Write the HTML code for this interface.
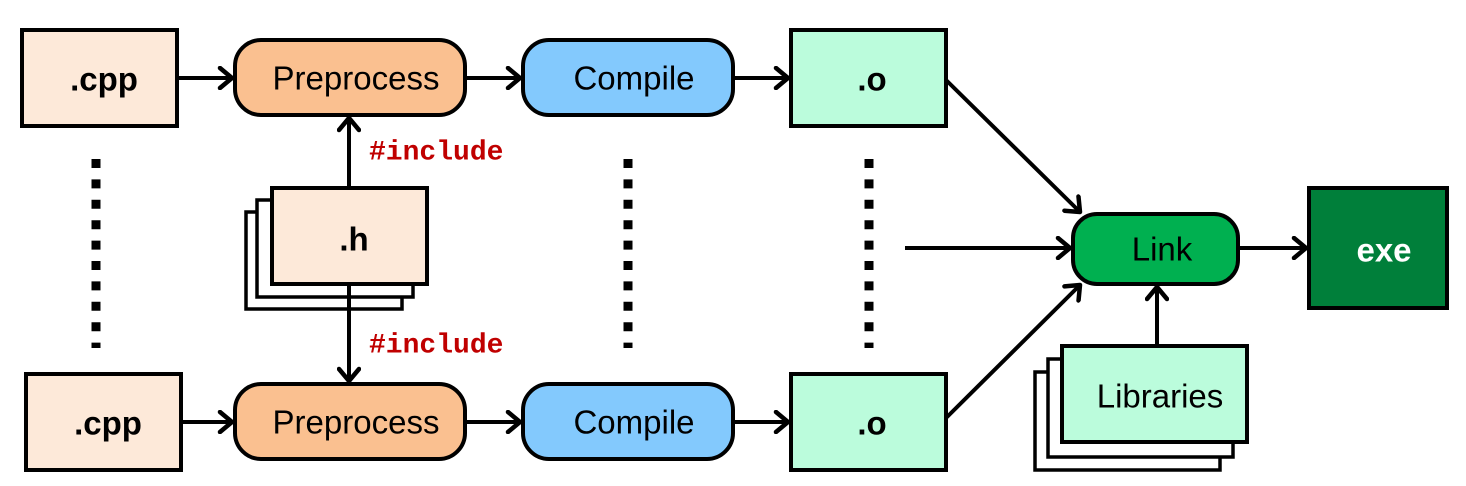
<!DOCTYPE html>
<html><head><meta charset="utf-8"><style>
html,body{margin:0;padding:0;background:#fff;}
svg{display:block;}
text{font-family:"Liberation Sans",sans-serif;}
</style></head><body>
<svg width="1466" height="486" viewBox="0 0 1466 486" xmlns="http://www.w3.org/2000/svg">
<defs>
<marker id="a" markerWidth="18" markerHeight="24" refX="15" refY="12" orient="auto" markerUnits="userSpaceOnUse">
<path d="M3,2 L15,12 L3,22" fill="none" stroke="#000" stroke-width="4.5" stroke-linecap="round" stroke-linejoin="round"/>
</marker>
</defs>
<g stroke="#000" stroke-width="4">
<rect x="22" y="30" width="155" height="96" fill="#fde9d9"/>
<rect x="26" y="374" width="155" height="96" fill="#fde9d9"/>
<rect x="235" y="40" width="230" height="75" rx="26" fill="#fac090"/>
<rect x="235" y="384" width="230" height="75" rx="26" fill="#fac090"/>
<rect x="523" y="40" width="210" height="75" rx="26" fill="#83c9fd"/>
<rect x="523" y="384" width="210" height="75" rx="26" fill="#83c9fd"/>
<rect x="791" y="30" width="155" height="96" fill="#bbfcdc"/>
<rect x="791" y="374" width="155" height="96" fill="#bbfcdc"/>
<rect x="246" y="212" width="156" height="97" fill="#fff" stroke-width="3.5"/>
<rect x="257" y="200" width="156" height="97" fill="#fff" stroke-width="3.5"/>
<rect x="272" y="188" width="155" height="96" fill="#fde9d9"/>
<rect x="1035" y="372" width="185" height="98" fill="#fff" stroke-width="3.5"/>
<rect x="1048" y="359" width="185" height="98" fill="#fff" stroke-width="3.5"/>
<rect x="1062" y="346" width="185" height="96" fill="#bbfcdc"/>
<rect x="1073" y="214" width="165" height="70" rx="24" fill="#00b050"/>
<rect x="1309" y="188" width="138" height="120" fill="#007f3a"/>
</g>
<g stroke="#000" stroke-width="4" fill="none" marker-end="url(#a)">
<line x1="177" y1="78" x2="232" y2="78"/>
<line x1="181" y1="422" x2="232" y2="422"/>
<line x1="465" y1="78" x2="520" y2="78"/>
<line x1="465" y1="422" x2="520" y2="422"/>
<line x1="733" y1="78" x2="788" y2="78"/>
<line x1="733" y1="422" x2="788" y2="422"/>
<line x1="349" y1="188" x2="349" y2="118"/>
<line x1="349" y1="284" x2="349" y2="381"/>
<line x1="946" y1="80" x2="1080" y2="212"/>
<line x1="905" y1="248" x2="1070" y2="248"/>
<line x1="946" y1="418" x2="1080" y2="285"/>
<line x1="1238" y1="248" x2="1306" y2="248"/>
<line x1="1157" y1="346" x2="1157" y2="287"/>
</g>
<g stroke="#000" stroke-width="9" stroke-dasharray="9 11.4">
<line x1="96" y1="159" x2="96" y2="348"/>
<line x1="628" y1="159" x2="628" y2="348"/>
<line x1="869" y1="159" x2="869" y2="348"/>
</g>
<g font-size="33" text-anchor="middle" dominant-baseline="central">
<text x="104" y="79" font-weight="bold">.cpp</text>
<text x="108" y="423" font-weight="bold">.cpp</text>
<text x="356" y="78">Preprocess</text>
<text x="356" y="422">Preprocess</text>
<text x="634" y="78">Compile</text>
<text x="634" y="422">Compile</text>
<text x="872" y="79" font-weight="bold">.o</text>
<text x="872" y="423" font-weight="bold">.o</text>
<text x="354" y="239" font-weight="bold">.h</text>
<text x="1160" y="396">Libraries</text>
<text x="1162" y="249">Link</text>
<text x="1384" y="250" font-weight="bold" fill="#fff">exe</text>
</g>
<g font-size="28" font-weight="bold" fill="#c00000" dominant-baseline="central">
<text x="369" y="153" style="font-family:'Liberation Mono',monospace">#include</text>
<text x="369" y="346" style="font-family:'Liberation Mono',monospace">#include</text>
</g>
</svg>
</body></html>
